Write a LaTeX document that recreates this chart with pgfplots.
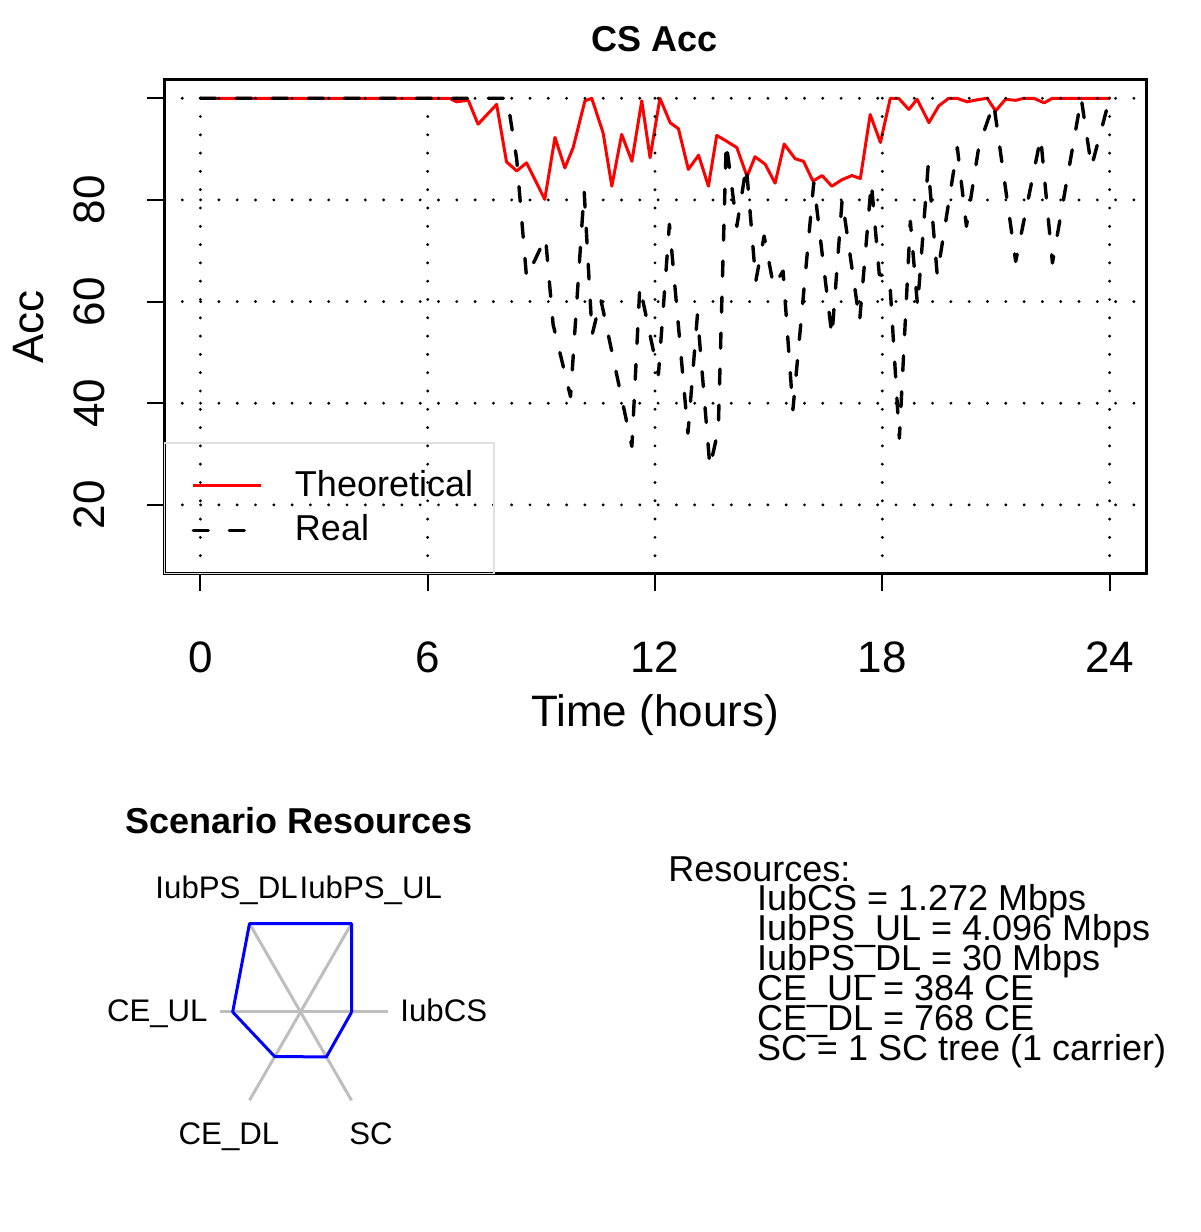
\documentclass[border=0pt]{standalone}
\usepackage{fontspec}
\setmainfont{Liberation Sans}
\usepackage{pgfplots}
\pgfplotsset{compat=1.18}
\definecolor{rred}{RGB}{255,0,0}
\definecolor{rblue}{RGB}{0,0,255}
\definecolor{rgray}{RGB}{190,190,190}
\begin{document}
\begin{tikzpicture}
\path[use as bounding box] (0,0) rectangle (600pt,616pt);
\begin{axis}[
  at={(82pt,329pt)}, anchor=south west,
  width=491pt, height=247pt, scale only axis,
  xmin=-0.96, xmax=24.96, ymin=6.4, ymax=103.6,
  xtick={0,6,12,18,24}, xticklabels={0,6,12,18,24},
  ytick={20,40,60,80,100}, yticklabels={20,40,60,80,{}},
  tick align=outside, major tick length=8.5pt,
  tick style={black, line width=1pt},
  axis line style={line width=1.5pt},
  xtick pos=bottom, ytick pos=left,
  grid=major,
  major grid style={black, line width=1.6pt, dash pattern=on 0pt off 9.15pt, line cap=round},
  axis on top,
  tick label style={font=\fontsize{22}{26}\selectfont, inner sep=0pt},
  xticklabel style={anchor=base, yshift=-41pt},
  yticklabel style={xshift=-21.3pt, rotate=90, anchor=base},
  xlabel={Time (hours)}, ylabel={Acc},
  every axis x label/.style={at={(axis description cs:0.5,-0.3097)}, anchor=base, inner sep=0pt, font=\fontsize{22}{26}\selectfont},
  every axis y label/.style={at={(axis description cs:-0.1227,0.5)}, rotate=90, anchor=base, inner sep=0pt, font=\fontsize{22}{26}\selectfont},
  legend style={at={(0,0)}, anchor=south west, draw=black!12, fill=none, line width=0.6pt,
    inner xsep=8.5pt, inner ysep=11.5pt, row sep=2.7pt, font=\fontsize{18}{20}\selectfont,
    nodes={inner sep=2pt, text depth=2.7pt},
    /tikz/every odd column/.append style={column sep=14pt}},
  legend cell align=left,
  legend image code/.code={\path (-5pt,0pt); \draw[#1] (0pt,0pt) -- (34pt,0pt);},
]
\addplot[rred, line width=1.5pt, line join=round] coordinates {
(0,100) (6.58,100) (6.76,99.3) (7.07,99.6) (7.33,94.9) (7.82,98.8) (8.08,87.5) (8.35,85.7)
(8.61,87.3) (9.09,80.1) (9.36,92.3) (9.62,86.3) (9.84,90.3) (10.15,99.5) (10.33,100)
(10.63,93.2) (10.86,82.7) (11.12,92.9) (11.39,87.6) (11.65,99.5) (11.87,88.3) (12.13,100)
(12.4,95.2) (12.62,94) (12.88,86) (13.15,88.8) (13.41,82.7) (13.63,92.7) (13.9,91.5)
(14.16,90.3) (14.43,84.6) (14.64,88.5) (14.91,87) (15.17,83.3) (15.41,91) (15.70,88.1)
(15.92,87.6) (16.17,83.7) (16.41,84.8) (16.67,82.7) (16.94,84) (17.2,84.8) (17.42,84.2)
(17.68,96.8) (17.95,91.3) (18.21,100) (18.43,100) (18.7,97.8) (18.92,99.8) (19.23,95.2)
(19.49,98.5) (19.75,100) (19.97,100) (20.24,99.3) (20.5,99.7) (20.77,100) (20.99,97.5)
(21.25,99.8) (21.52,99.6) (21.74,100) (22.0,100) (22.27,99.1) (22.49,100) (24,100)
};
\addlegendentry{Theoretical}
\addplot[black, line width=1.7pt, dash pattern=on 7.5pt off 10.5pt, line cap=round, line join=round] coordinates {
(0,100) (8.1,100) (8.35,88) (8.61,64.7) (9.11,72.6) (9.31,55.5) (9.77,41.3) (10.13,81.7)
(10.34,53.5) (10.57,60.4) (11.39,31.5) (11.6,63) (12.09,45.6) (12.38,75.2) (12.87,34.1)
(13.12,57.4) (13.45,27.4) (13.67,34.8) (13.88,91.3) (14.16,74.8) (14.41,86.7) (14.66,64)
(14.88,72.9) (15.13,63) (15.38,66) (15.64,38.7) (16.19,83.4) (16.67,53.2) (16.94,80.1)
(17.4,56.1) (17.71,83.4) (17.92,65.3) (18.19,64.9) (18.45,33.1) (18.74,75.8) (18.93,59.1)
(19.21,86.7) (19.45,65.2) (19.98,90.3) (20.22,74.8) (20.55,90.6) (20.94,99) (21.52,67.9)
(22.18,92.3) (22.49,67.6) (23.25,100) (23.52,86.5) (24,100)
};
\addlegendentry{Real}
\end{axis}
\node[font=\bfseries\fontsize{18}{20}\selectfont, anchor=base, inner sep=0pt] at (327.5pt,590pt) {CS Acc};
% radar chart
\begin{axis}[at={(150.25pt,110pt)}, anchor=center, width=102pt, height=102pt, scale only axis,
  xmin=-1, xmax=1, ymin=-1, ymax=1, hide axis, clip=false]
\addplot[rgray, line width=1.5pt, data cs=polar] coordinates {(0,0.861) (180,0.789)};
\addplot[rgray, line width=1.5pt, data cs=polar] coordinates {(60,1) (240,1)};
\addplot[rgray, line width=1.5pt, data cs=polar] coordinates {(120,1) (300,1)};
\addplot[rblue, line width=1.5pt, line join=round, data cs=polar] coordinates {
(0,0.502) (60,1) (120,1) (180,0.665) (240,0.505) (300,0.508) (0,0.502)};
\end{axis}
\node[font=\bfseries\fontsize{18}{20}\selectfont, anchor=base, inner sep=0pt] at (149.5pt,199.35pt) {Scenario Resources};
\begin{scope}[every node/.style={font=\fontsize{15.6}{18}\selectfont, inner sep=0pt}]
\node[anchor=base] at (113.3pt,166.85pt) {IubPS\_DL};
\node[anchor=base] at (185.4pt,166.85pt) {IubPS\_UL};
\node[anchor=base east] at (104pt,105.15pt) {CE\_UL};
\node[anchor=base west] at (200pt,105.15pt) {IubCS};
\node[anchor=base] at (114.5pt,43.5pt) {CE\_DL};
\node[anchor=base] at (185.5pt,43.5pt) {SC};
\end{scope}
\begin{scope}[every node/.style={font=\fontsize{18}{20}\selectfont, inner sep=0pt, anchor=base west}]
\node at (334pt,175.2pt) {Resources:};
\node at (378.3pt,160.5pt) {IubCS = 1.272 Mbps};
\node at (378.3pt,145.5pt) {IubPS\_UL = 4.096 Mbps};
\node at (378.3pt,130.5pt) {IubPS\_DL = 30 Mbps};
\node at (378.3pt,115.5pt) {CE\_UL = 384 CE};
\node at (378.3pt,100.5pt) {CE\_DL = 768 CE};
\node at (378.3pt,85.5pt) {SC = 1 SC tree (1 carrier)};
\end{scope}
\end{tikzpicture}
\end{document}
